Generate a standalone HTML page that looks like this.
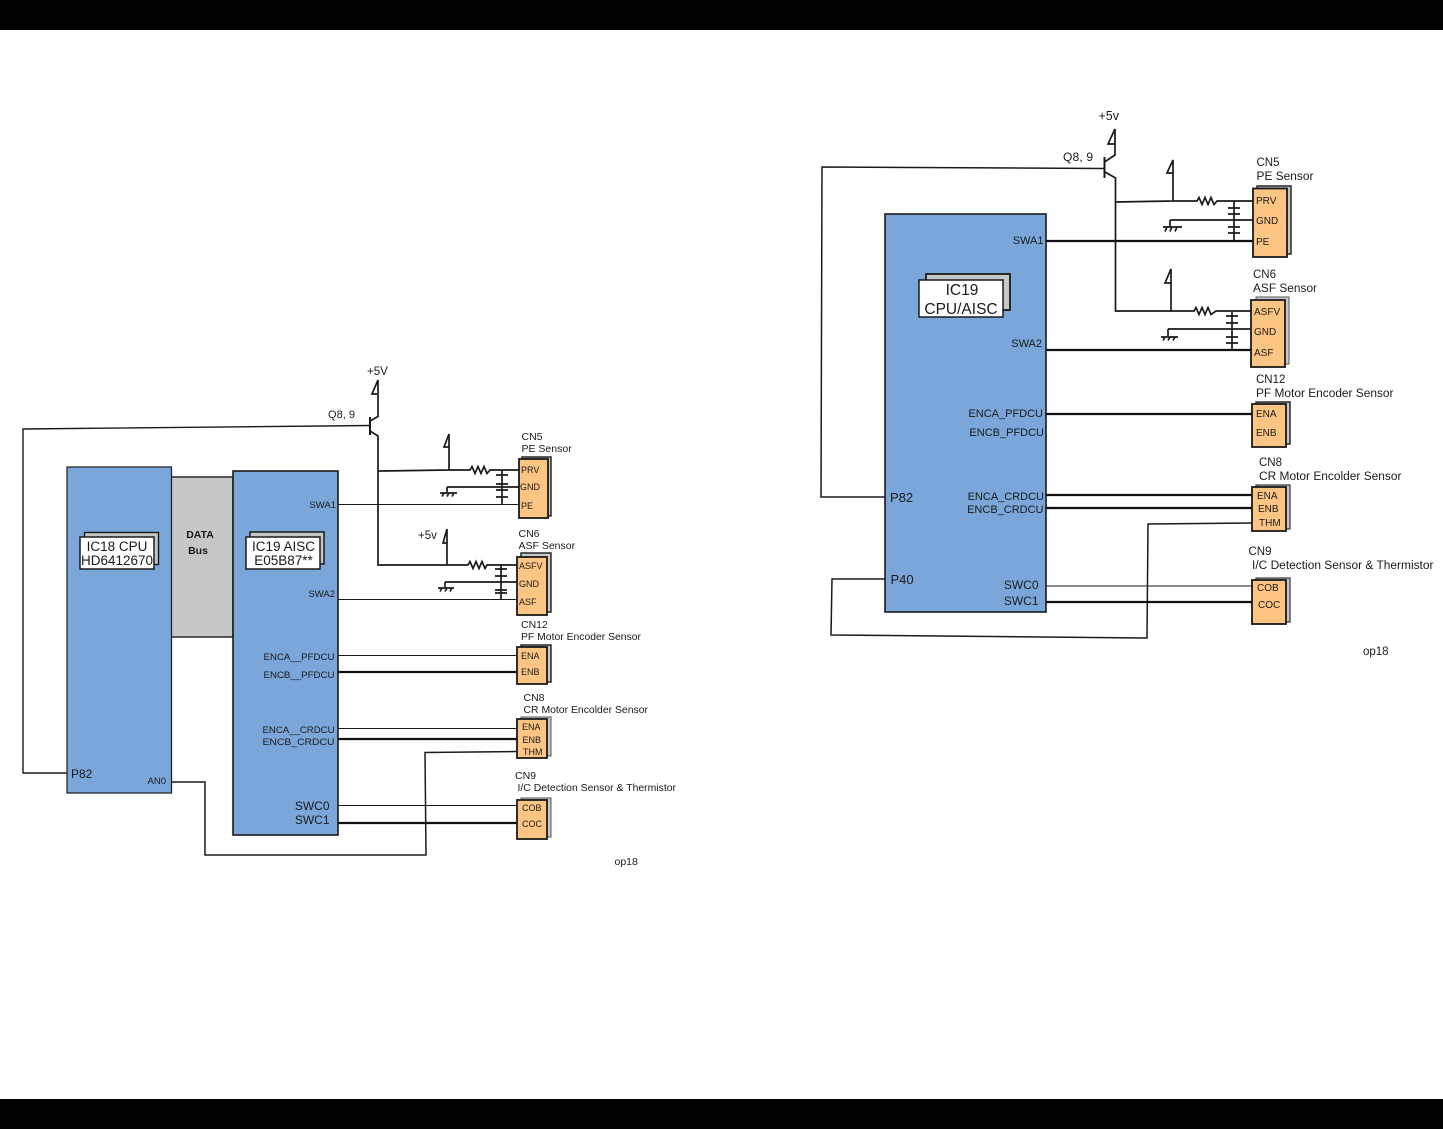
<!DOCTYPE html>
<html><head><meta charset="utf-8"><style>
html,body{margin:0;padding:0;background:#fff}
svg{display:block}
text{font-family:"Liberation Sans",sans-serif;fill:#1a1a1a}
.w{fill:none;stroke:#1a1a1a;stroke-width:1.1}
.t{fill:none;stroke:#111;stroke-width:2.2}
.m{fill:none;stroke:#1a1a1a;stroke-width:1.7}
.chip{fill:#7ba6d9;stroke:#1a1a1a;stroke-width:1.6}
.o{fill:#fdc583;stroke:#1a1a1a;stroke-width:1.8}
.b{fill:#c6c7c9;stroke:#1a1a1a;stroke-width:1.4}
.l{fill:#fff;stroke:#1a1a1a;stroke-width:1.5}
.s8{font-size:9px}.s9{font-size:10px}.s95{font-size:9.5px}.s10{font-size:10.5px}.s11{font-size:11.5px}
</style></head><body>
<svg width="1443" height="1129" viewBox="0 0 1443 1129" xmlns="http://www.w3.org/2000/svg">
<rect width="1443" height="1129" fill="#fff"/>
<rect width="1443" height="30" fill="#000"/>
<rect y="1099" width="1443" height="30" fill="#000"/>

<!-- LEFT DIAGRAM -->
<rect x="171" y="477" width="62" height="160" fill="#c6c7c9" stroke="#1a1a1a" stroke-width="1.4"/>
<rect class="chip" x="67" y="467" width="104.5" height="326" style="stroke-width:1.2"/>
<rect class="chip" x="233" y="471" width="105" height="364"/>
<text x="200" y="538" text-anchor="middle" font-size="10.5" font-weight="bold">DATA</text>
<text x="198" y="554" text-anchor="middle" font-size="10.5" font-weight="bold">Bus</text>
<rect class="b" x="84.500" y="532.500" width="74" height="32"/>
<rect class="l" x="80" y="537" width="74" height="32"/>
<text x="117" y="551" text-anchor="middle" font-size="13.500">IC18 CPU</text>
<text x="117" y="565" text-anchor="middle" font-size="13.500" textLength="72" lengthAdjust="spacingAndGlyphs">HD6412670</text>
<rect x="250" y="532" width="74" height="32" fill="#c6c7c9" stroke="#1a1a1a" stroke-width="1.500"/>
<rect class="l" x="246" y="537" width="74" height="32"/>
<text x="283.500" y="551" text-anchor="middle" font-size="13.500">IC19 AISC</text>
<text x="283.500" y="565" text-anchor="middle" font-size="13.500">E05B87**</text>

<text class="s95" x="336" y="508" text-anchor="end">SWA1</text>
<text class="s95" x="335" y="597" text-anchor="end">SWA2</text>
<text class="s95" x="334.500" y="660" text-anchor="end" textLength="71" lengthAdjust="spacingAndGlyphs">ENCA__PFDCU</text>
<text class="s95" x="334.500" y="678" text-anchor="end" textLength="71" lengthAdjust="spacingAndGlyphs">ENCB__PFDCU</text>
<text class="s95" x="334.500" y="733" text-anchor="end" textLength="72" lengthAdjust="spacingAndGlyphs">ENCA__CRDCU</text>
<text class="s95" x="334.500" y="745" text-anchor="end" textLength="72" lengthAdjust="spacingAndGlyphs">ENCB_CRDCU</text>
<text x="329.500" y="810" text-anchor="end" font-size="12">SWC0</text>
<text x="329.500" y="824" text-anchor="end" font-size="12">SWC1</text>
<text x="71" y="778" font-size="12">P82</text>
<text class="s95" x="166" y="784" text-anchor="end">AN0</text>

<!-- connector blocks left -->
<rect class="b" x="522" y="457" width="29" height="59"/>
<rect class="o" x="519" y="459" width="29" height="59"/>
<rect class="b" x="521" y="553" width="30" height="59"/>
<rect class="o" x="517" y="557" width="30" height="58"/>
<rect class="b" x="521" y="645" width="30" height="37"/>
<rect class="o" x="517" y="647" width="30" height="37"/>
<rect x="521" y="717" width="30" height="39" fill="#c6c7c9" stroke="#555" stroke-width="1"/>
<rect class="o" x="517" y="719" width="30" height="39"/>
<rect x="521" y="798" width="30" height="39" fill="#c6c7c9" stroke="#555" stroke-width="1"/>
<rect class="o" x="517" y="800" width="30" height="39"/>

<text class="s8" x="521" y="473">PRV</text><text class="s8" x="520" y="490">GND</text><text class="s8" x="521" y="509">PE</text>
<text class="s8" x="519" y="569">ASFV</text><text class="s8" x="519" y="587">GND</text><text class="s8" x="519" y="605">ASF</text>
<text class="s8" x="521" y="659">ENA</text><text class="s8" x="521" y="675">ENB</text>
<text class="s8" x="522" y="730">ENA</text><text class="s8" x="522.500" y="743">ENB</text><text class="s8" x="523" y="755">THM</text>
<text class="s8" x="522" y="811">COB</text><text class="s8" x="522" y="827">COC</text>

<text class="s10" x="521.500" y="440">CN5</text><text class="s10" x="521.500" y="452">PE Sensor</text>
<text class="s10" x="518.500" y="537">CN6</text><text class="s10" x="518.500" y="549">ASF Sensor</text>
<text class="s10" x="521" y="628">CN12</text><text class="s10" x="521" y="640" textLength="120" lengthAdjust="spacingAndGlyphs">PF Motor Encoder Sensor</text>
<text class="s10" x="523.500" y="701">CN8</text><text class="s10" x="523.500" y="713" textLength="124.500" lengthAdjust="spacingAndGlyphs">CR Motor Encolder Sensor</text>
<text class="s10" x="515" y="779">CN9</text><text class="s10" x="517.500" y="791" textLength="158.500" lengthAdjust="spacingAndGlyphs">I/C Detection Sensor &amp; Thermistor</text>
<text class="s10" x="614.500" y="865">op18</text>
<text x="367" y="375" font-size="11.500">+5V</text>
<text x="418" y="539" font-size="11.500">+5v</text>
<text x="328" y="418" font-size="11" textLength="27">Q8, 9</text>

<!-- wires left -->
<path class="m" d="M67 773H23V429L370 425.500" style="stroke-width:1.400"/>
<path class="m" d="M370 417V435" style="stroke-width:2"/>
<path class="m" d="M370 421L378 416.500V380L372 394H377"/>
<path class="m" d="M370 431L378 436V565H447"/>
<path class="m" d="M378.500 471L449 470M449 470V434L444 447H449"/>
<path class="m" d="M449 470H470L472 466.500 475 473.500 478 466.500 481 473.500 484 466.500 487 473.500 490 470H519"/>
<path class="m" d="M502 470V504M496 475H508M496 484H508M496 490H508M496 497H508"/>
<path class="w" d="M338 504.500H519"/>
<path class="m" d="M447 487H519M447 487V492M440 493H457M442 496.500L444 493M447 496.500L449 493M452 496.500L454 493"/>
<path class="m" d="M447 565V529L443 543H447M447 565H468L470 561.500 473 568.500 476 561.500 479 568.500 482 561.500 485 568.500 487 565H517"/>
<path class="m" d="M501 565V599M495 569H507M495 576H507M495 590H507M495 593H507"/>
<path class="w" d="M338 599.500H517"/>
<path class="m" d="M445 582H517M445 582V587M438 588H454M440 591.500L442 588M445 591.500L447 588M450 591.500L452 588"/>
<path class="w" d="M338 655.500H517"/>
<path class="t" d="M338 672H517"/>
<path class="w" d="M338 728.500H517"/>
<path class="t" d="M338 739H517"/>
<path class="m" d="M517 751.500L425 752.500 426 855H205V782H171" style="stroke-width:1.500"/>
<path class="w" d="M338 805.500H517"/>
<path class="t" d="M338 823H517"/>

<!-- RIGHT DIAGRAM -->
<rect class="chip" x="885" y="214" width="161" height="398"/>
<rect class="b" x="926" y="274" width="84" height="36" style="stroke-width:1.800"/>
<rect class="l" x="919" y="280" width="84" height="37"/>
<text x="962" y="295" text-anchor="middle" font-size="15.500">IC19</text>
<text x="961" y="314" text-anchor="middle" font-size="15.500">CPU/AISC</text>
<text x="1043.500" y="244" text-anchor="end" font-size="11">SWA1</text>
<text x="1042" y="347" text-anchor="end" font-size="11">SWA2</text>
<text x="1043" y="417" text-anchor="end" font-size="11">ENCA_PFDCU</text>
<text x="1044" y="436" text-anchor="end" font-size="11">ENCB_PFDCU</text>
<text x="1044" y="500" text-anchor="end" font-size="11">ENCA_CRDCU</text>
<text x="1043.500" y="513" text-anchor="end" font-size="11">ENCB_CRDCU</text>
<text x="1038.500" y="589" text-anchor="end" font-size="12">SWC0</text>
<text x="1038.500" y="605" text-anchor="end" font-size="12">SWC1</text>
<text x="890" y="502" font-size="13">P82</text>
<text x="890.500" y="584" font-size="13">P40</text>

<rect class="b" x="1257" y="186" width="34" height="68"/>
<rect class="o" x="1253" y="188.500" width="34" height="68.500"/>
<rect x="1256" y="297" width="33" height="67" fill="#c6c7c9" stroke="#555" stroke-width="1"/>
<rect class="o" x="1251" y="300" width="34" height="67"/>
<rect class="b" x="1256" y="402" width="34" height="42"/>
<rect class="o" x="1252" y="404" width="34" height="43"/>
<rect x="1256" y="485" width="34" height="44" fill="#c6c7c9" stroke="#333" stroke-width="1.200"/>
<rect class="o" x="1252" y="487" width="34" height="44"/>
<rect x="1256" y="578" width="34" height="44" fill="#c6c7c9" stroke="#333" stroke-width="1.200"/>
<rect class="o" x="1252" y="580" width="34" height="44"/>

<text class="s9" x="1256" y="204">PRV</text><text class="s9" x="1256" y="224">GND</text><text class="s9" x="1256" y="245">PE</text>
<text class="s9" x="1254" y="315">ASFV</text><text class="s9" x="1254" y="335">GND</text><text class="s9" x="1254" y="356">ASF</text>
<text class="s9" x="1256" y="417">ENA</text><text class="s9" x="1256" y="436">ENB</text>
<text class="s9" x="1257" y="499">ENA</text><text class="s9" x="1258" y="512">ENB</text><text class="s9" x="1259" y="526">THM</text>
<text class="s9" x="1257" y="591">COB</text><text class="s9" x="1258" y="608">COC</text>

<text x="1256.500" y="166" font-size="11.500">CN5</text><text x="1256.500" y="180" font-size="11.500" textLength="57" lengthAdjust="spacingAndGlyphs">PE Sensor</text>
<text x="1253" y="278" font-size="11.500">CN6</text><text x="1253" y="292" font-size="11.500" textLength="64" lengthAdjust="spacingAndGlyphs">ASF Sensor</text>
<text x="1256" y="383" font-size="11.500">CN12</text><text x="1256" y="397" font-size="11.500" textLength="137.500" lengthAdjust="spacingAndGlyphs">PF Motor Encoder Sensor</text>
<text x="1259" y="466" font-size="11.500">CN8</text><text x="1259" y="480" font-size="11.500" textLength="142.500" lengthAdjust="spacingAndGlyphs">CR Motor Encolder Sensor</text>
<text x="1248.500" y="555" font-size="11.500">CN9</text><text x="1252" y="569" font-size="11.500" textLength="181.500" lengthAdjust="spacingAndGlyphs">I/C Detection Sensor &amp; Thermistor</text>
<text x="1363" y="655" font-size="11.500">op18</text>
<text x="1098.500" y="120" font-size="12.500">+5v</text>
<text x="1063" y="161" font-size="12" textLength="30">Q8, 9</text>

<path class="m" d="M885 497H821L822 167 1104 168.500" style="stroke-width:1.500"/>
<path class="m" d="M1104.500 157V178" style="stroke-width:2"/>
<path class="m" d="M1104.500 162L1115 155V129L1108 144H1115"/>
<path class="m" d="M1105 172L1115.500 178V311H1171"/>
<path class="m" d="M1116 202L1173 201M1173 201V160L1167 173H1173"/>
<path class="m" d="M1173 201H1197L1199 197.500 1202 204.500 1205 197.500 1208 204.500 1211 197.500 1214 204.500 1217 201H1253"/>
<path class="m" d="M1234 201V241M1228 208H1240M1228 214H1240M1228 227H1240M1228 233H1240"/>
<path class="t" d="M1046 241H1253"/>
<path class="m" d="M1170 220H1253M1170 220V227M1163 227H1182M1165 231.500L1167 227M1170 231.500L1172 227M1175 231.500L1177 227"/>
<path class="m" d="M1171 311V269L1165 283H1171M1171 311H1194L1196 307.500 1199 314.500 1202 307.500 1205 314.500 1208 307.500 1211 314.500 1216 311H1251"/>
<path class="m" d="M1232 311V350M1226 316H1238M1226 323H1238M1226 337H1238M1226 343H1238"/>
<path class="t" d="M1046 350H1251"/>
<path class="m" d="M1168 329H1251M1168 329V336M1161 337H1178M1163 340.500L1165 337M1168 340.500L1170 337M1173 340.500L1175 337"/>
<path class="t" d="M1046 414H1252"/>
<path class="t" d="M1046 495H1252"/>
<path class="t" d="M1046 508H1252"/>
<path class="m" d="M1252 523L1148 524 1147 638 831 635 832 579H885" style="stroke-width:1.500"/>
<path class="w" d="M1046 586H1252"/>
<path class="t" d="M1046 602H1252"/>
</svg>
</body></html>
